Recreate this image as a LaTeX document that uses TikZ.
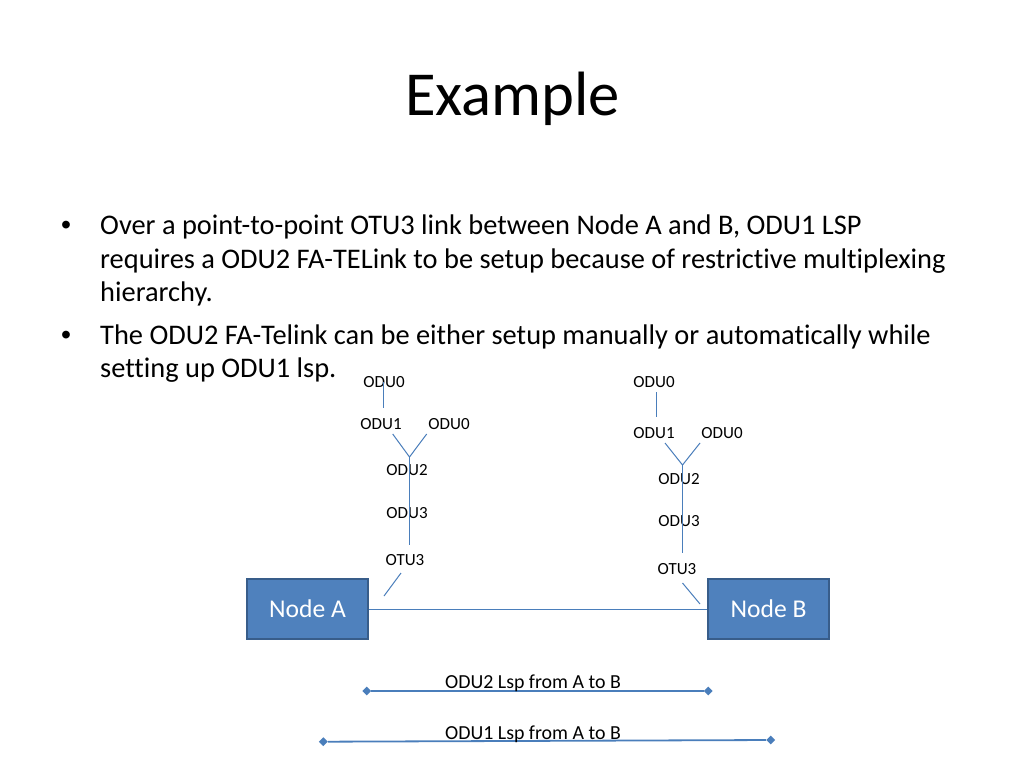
\documentclass[tikz,border=0pt]{standalone}
\usepackage{fontspec}
\setmainfont{Carlito}[Ligatures={NoCommon,NoRequired,NoContextual}]
\newfontfamily\bulletfont{Liberation Sans}
\usepackage{xcolor}
\usetikzlibrary{shapes.geometric}

\definecolor{boxfill}{HTML}{4F81BD}
\definecolor{boxedge}{HTML}{385D8A}
\definecolor{linkblue}{HTML}{4A7EBB}

\begin{document}
\begin{tikzpicture}[x=1pt,y=-1pt,
    netnode/.style={draw=boxedge, line width=2pt, fill=boxfill, text=white,
        minimum width=121pt, minimum height=60pt, inner sep=0pt,
        font=\fontsize{25.6}{30}\selectfont},
    layer/.style={font=\fontsize{17}{20}\selectfont, inner sep=0pt},
    bodytext/.style={font=\fontsize{28.4}{33.5}\selectfont, inner sep=0pt, anchor=base west},
    bulletdot/.style={font=\bulletfont\fontsize{28.4}{33.5}\selectfont, inner sep=0pt, anchor=base},
    wire/.style={draw=linkblue, line width=1pt},
    lsp/.style={draw=linkblue, line width=1.8pt},
    lspend/.style={diamond, fill=linkblue, inner sep=0pt, minimum width=9pt, minimum height=9pt},
    lsplabel/.style={font=\fontsize{19.9}{24}\selectfont, inner sep=0pt, anchor=base}]

    \fill[white] (0,0) rectangle (1024,768);
    \useasboundingbox (0,0) rectangle (1024,768);

    % Title
    \node[font=\fontsize{62.6}{75}\selectfont, inner sep=0pt, anchor=base] (title) at (512.5,115) {Example};

    % Bullets
    \node[bulletdot] (dot1) at (66,234.3) {•};
    \node[bodytext] (l1) at (100,234.3) {Over a point-to-point OTU3 link between Node A and B, ODU1 LSP};
    \node[bodytext] (l2) at (100,268) {requires a ODU2 FA-TELink to be setup because of restrictive multiplexing};
    \node[bodytext] (l3) at (100,301.6) {hierarchy.};
    \node[bulletdot] (dot2) at (66,344.3) {•};
    \node[bodytext] (l4) at (100,344.3) {The ODU2 FA-Telink can be either setup manually or automatically while};
    \node[bodytext] (l5) at (100,377.8) {setting up ODU1 lsp.};

    % Node A and Node B
    \node[netnode] (nodeA) at (307.5,609) {Node A};
    \node[netnode] (nodeB) at (768.5,609) {Node B};
    \draw[wire] (nodeA) -- (nodeB);

    % Multiplexing at Node A
    \node[layer] (a0) at (384,382) {ODU0};
    \node[layer] (a1) at (381,424) {ODU1};
    \node[layer] (a1b) at (449,424) {ODU0};
    \node[layer] (a2) at (407,470) {ODU2};
    \node[layer] (a3) at (407,513) {ODU3};
    \node[layer] (a4) at (405,560) {OTU3};
    \coordinate (a0top) at (383,382);
    \coordinate (a0bot) at (383,408);
    \coordinate (a1l) at (392.7,434);
    \coordinate (a1r) at (426.7,434);
    \coordinate (a2top) at (409.5,457);
    \coordinate (a3bot) at (409.5,545);
    \coordinate (a4top) at (401,573);
    \coordinate (a4bot) at (384,596);
    \draw[wire] (a0top) -- (a0bot);
    \draw[wire] (a1l) -- (a2top) -- (a1r);
    \draw[wire] (a2top) -- (a3bot);
    \draw[wire] (a4top) -- (a4bot);

    % Multiplexing at Node B
    \node[layer] (b0) at (654,382) {ODU0};
    \node[layer] (b1) at (654,433) {ODU1};
    \node[layer] (b1b) at (722,433) {ODU0};
    \node[layer] (b2) at (679,479) {ODU2};
    \node[layer] (b3) at (679,521) {ODU3};
    \node[layer] (b4) at (677,569) {OTU3};
    \coordinate (b0top) at (656.5,392);
    \coordinate (b0bot) at (656.5,417);
    \coordinate (b1l) at (665,443);
    \coordinate (b1r) at (700,443);
    \coordinate (b2top) at (682.5,465);
    \coordinate (b3bot) at (682.5,553);
    \coordinate (b4top) at (682.5,583);
    \coordinate (b4bot) at (700,604);
    \draw[wire] (b0top) -- (b0bot);
    \draw[wire] (b1l) -- (b2top) -- (b1r);
    \draw[wire] (b2top) -- (b3bot);
    \draw[wire] (b4top) -- (b4bot);

    % LSPs
    \node[lspend] (odu2s) at (366.7,691) {};
    \node[lspend] (odu2e) at (708.3,691) {};
    \draw[lsp] (odu2s) -- (odu2e);
    \node[lsplabel] (odu2lbl) at (533,688.3) {ODU2 Lsp from A to B};

    \node[lspend] (odu1s) at (323.3,741.7) {};
    \node[lspend] (odu1e) at (770.7,740) {};
    \draw[lsp] (odu1s) -- (odu1e);
    \node[lsplabel] (odu1lbl) at (533,739.3) {ODU1 Lsp from A to B};
\end{tikzpicture}
\end{document}
